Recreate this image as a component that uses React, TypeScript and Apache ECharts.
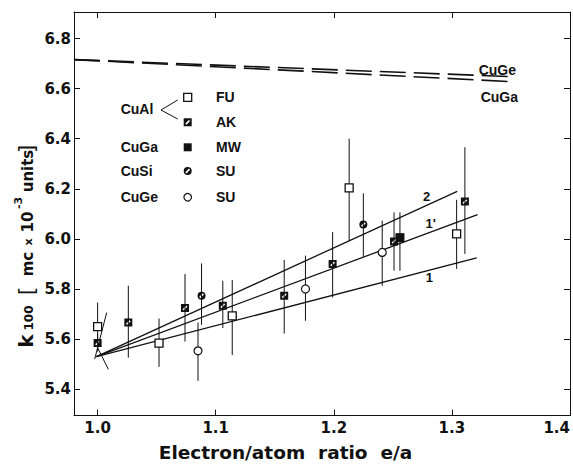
import React, { useEffect, useRef } from "react";
import * as echarts from "echarts";

const X_TICKS = [1.0, 1.1, 1.2, 1.3, 1.4];
const Y_TICKS = [5.4, 5.6, 5.8, 6.0, 6.2, 6.4, 6.6, 6.8];

// CuAl (FU) open squares
const fuX = [1.0, 1.052, 1.114, 1.213, 1.304];
const fuY = [5.65, 5.584, 5.693, 6.204, 6.02];
const fuLo = [5.58, 5.489, 5.536, 5.993, 5.88];
const fuHi = [5.746, 5.682, 5.836, 6.4, 6.156];

// CuAl (AK) hatched squares
const akX = [1.0, 1.026, 1.074, 1.106, 1.158, 1.199, 1.251, 1.311];
const akY = [5.584, 5.666, 5.724, 5.733, 5.773, 5.9, 5.99, 6.149];
const akLo = [5.55, 5.526, 5.59, 5.644, 5.622, 5.766, 5.873, 5.94];
const akHi = [5.62, 5.813, 5.86, 5.833, 5.916, 6.027, 6.106, 6.366];

// CuGa (MW) filled square
const mwX = [1.256];
const mwY = [6.005];
const mwLo = [5.873];
const mwHi = [6.106];

// CuSi (SU) hatched circles
const siX = [1.088, 1.225];
const siY = [5.773, 6.057];
const siLo = [5.657, 5.929];
const siHi = [5.902, 6.182];

// CuGe (SU) open circles
const geX = [1.085, 1.176, 1.241];
const geY = [5.553, 5.8, 5.946];
const geLo = [5.433, 5.673, 5.813];
const geHi = [5.666, 5.933, 6.073];

// fitted lines
const line2X = [0.999, 1.3045];
const line2Y = [5.53, 6.19];
const line1pX = [0.999, 1.3217];
const line1pY = [5.53, 6.097];
const line1X = [0.999, 1.321];
const line1Y = [5.53, 5.924];

// short crossing strokes near e/a = 1.0
const crossAX = [1.0077, 0.9975];
const crossAY = [5.706, 5.52];
const crossBX = [0.9992, 1.0091];
const crossBY = [5.573, 5.479];

// dashed reference lines (top)
const cuGeDashX = [0.98, 1.35];
const cuGeDashY = [6.716, 6.648];
const cuGaDashX = [0.98, 1.35];
const cuGaDashY = [6.716, 6.628];

const HATCH_SQ = "M0 0L10 0L10 10L0 10Z M2 6.5L3.5 8L8 3.5L6.5 2Z";
const HATCH_CI = "M0 5A5 5 0 1 1 10 5A5 5 0 1 1 0 5Z M2 6.5L3.5 8L8 3.5L6.5 2Z";

echarts.graphic.registerShape("hatchSq", echarts.graphic.extendPath(HATCH_SQ, {}) as any);
echarts.graphic.registerShape("hatchCi", echarts.graphic.extendPath(HATCH_CI, {}) as any);

const INK = "#111";
const SANS = "Liberation Sans";
const DV = "DejaVu Sans";

const zip = (xs: number[], ys: number[]) => xs.map((x, i) => [x, ys[i]]);
const zip3 = (xs: number[], a: number[], b: number[]) => xs.map((x, i) => [x, a[i], b[i]]);

function lineSeries(xs: number[], ys: number[], extra: any = {}) {
  return {
    type: "line",
    data: zip(xs, ys),
    symbol: "none",
    silent: true,
    z: 3,
    lineStyle: { color: INK, width: 1.3, ...(extra.lineStyle || {}) },
  };
}

export default function App() {
  const ref = useRef<HTMLDivElement>(null);
  useEffect(() => {
    document.body.style.margin = "0";
    const chart = echarts.init(ref.current!, null, { renderer: "svg" });
    const errData = [
      ...zip3(fuX, fuLo, fuHi),
      ...zip3(akX, akLo, akHi),
      ...zip3(mwX, mwLo, mwHi),
      ...zip3(siX, siLo, siHi),
      ...zip3(geX, geLo, geHi),
    ];
    const axisCommon = {
      type: "value",
      splitLine: { show: false },
      axisLine: { show: true, onZero: false, lineStyle: { color: INK, width: 1 } },
    };
    const tickStyle = { show: true, inside: true, length: 6, lineStyle: { color: INK, width: 1 } };
    const labelStyle = {
      color: INK,
      fontFamily: DV,
      fontWeight: "bold",
      fontSize: 15,
    };
    const txt = (text: string, x: number, y: number, size: number, align = "left", family = SANS, weight = "bold") => ({
      type: "text",
      x,
      y,
      silent: true,
      style: {
        text,
        fill: INK,
        font: `${weight} ${size}px "${family}"`,
        align,
        verticalAlign: "middle",
      },
    });
    const rtxt = (text: string, x: number, y: number, size: number, weight = "bold") => ({
      type: "text",
      x,
      y,
      rotation: Math.PI / 2,
      silent: true,
      style: {
        text,
        fill: INK,
        font: `${weight} ${size}px "${DV}"`,
        align: "center",
        verticalAlign: "middle",
      },
    });
    const option: any = {
      animation: false,
      backgroundColor: "#fff",
      grid: { left: 74, right: 1.5, top: 12, bottom: 55.3, containLabel: false },
      xAxis: [
        {
          ...axisCommon,
          min: 0.98,
          max: 1.4,
          position: "bottom",
          axisTick: { ...tickStyle, customValues: X_TICKS },
          axisLabel: {
            ...labelStyle,
            customValues: X_TICKS,
            margin: 5,
            alignMaxLabel: "right",
            formatter: (v: number) => v.toFixed(1),
          },
        },
        {
          ...axisCommon,
          min: 0.98,
          max: 1.4,
          position: "top",
          axisTick: { ...tickStyle, customValues: X_TICKS },
          axisLabel: { show: false },
        },
      ],
      yAxis: [
        {
          ...axisCommon,
          min: 5.294,
          max: 6.906,
          position: "left",
          axisTick: { ...tickStyle, customValues: Y_TICKS },
          axisLabel: {
            ...labelStyle,
            customValues: Y_TICKS,
            margin: 3,
            formatter: (v: number) => v.toFixed(1),
          },
        },
        {
          ...axisCommon,
          min: 5.294,
          max: 6.906,
          position: "right",
          axisTick: { ...tickStyle, customValues: Y_TICKS },
          axisLabel: { show: false },
        },
      ],
      series: [
        {
          type: "line",
          data: zip(cuGeDashX, cuGeDashY),
          symbol: "none",
          silent: true,
          z: 3,
          lineStyle: { color: INK, width: 1.6, type: [26, 8] },
        },
        {
          type: "line",
          data: zip(cuGaDashX, cuGaDashY),
          symbol: "none",
          silent: true,
          z: 3,
          lineStyle: { color: INK, width: 1.6, type: [26, 8] },
        },
        lineSeries(line2X, line2Y),
        lineSeries(line1pX, line1pY),
        lineSeries(line1X, line1Y),
        lineSeries(crossAX, crossAY, { lineStyle: { width: 1 } }),
        lineSeries(crossBX, crossBY, { lineStyle: { width: 1 } }),
        {
          type: "custom",
          data: errData,
          encode: { x: 0, y: [1, 2] },
          silent: true,
          z: 2,
          renderItem: (params: any, api: any) => {
            const p1 = api.coord([api.value(0), api.value(1)]);
            const p2 = api.coord([api.value(0), api.value(2)]);
            return {
              type: "line",
              shape: { x1: p1[0], y1: p1[1], x2: p2[0], y2: p2[1] },
              style: { stroke: INK, lineWidth: 1 },
            };
          },
        },
        {
          name: "CuAl FU",
          type: "scatter",
          data: zip(fuX, fuY),
          symbol: "rect",
          symbolSize: 8,
          z: 5,
          itemStyle: { color: "#fff", borderColor: INK, borderWidth: 1.3, opacity: 1 },
        },
        {
          name: "CuAl AK",
          type: "scatter",
          data: zip(akX, akY),
          symbol: "path://" + HATCH_SQ,
          symbolSize: 8,
          z: 5,
          itemStyle: { color: INK, opacity: 1 },
        },
        {
          name: "CuGa MW",
          type: "scatter",
          data: zip(mwX, mwY),
          symbol: "rect",
          symbolSize: 9,
          z: 6,
          itemStyle: { color: INK, opacity: 1 },
        },
        {
          name: "CuSi SU",
          type: "scatter",
          data: zip(siX, siY),
          symbol: "path://" + HATCH_CI,
          symbolSize: 8,
          z: 5,
          itemStyle: { color: INK, opacity: 1 },
        },
        {
          name: "CuGe SU",
          type: "scatter",
          data: zip(geX, geY),
          symbol: "circle",
          symbolSize: 8,
          z: 5,
          itemStyle: { color: "#fff", borderColor: INK, borderWidth: 1.2, opacity: 1 },
        },
      ],
      graphic: [
        // legend
        txt("CuAl", 120.7, 109, 14),
        { type: "line", silent: true, shape: { x1: 161, y1: 110, x2: 177.7, y2: 100 }, style: { stroke: INK, lineWidth: 1 } },
        { type: "line", silent: true, shape: { x1: 161, y1: 110, x2: 177.7, y2: 119 }, style: { stroke: INK, lineWidth: 1 } },
        { type: "rect", silent: true, shape: { x: 183.7, y: 93.3, width: 8, height: 8 }, style: { fill: "#fff", stroke: INK, lineWidth: 1.3 } },
        { type: "hatchSq", silent: true, x: 183.7, y: 118.3, scaleX: 0.8, scaleY: 0.8, style: { fill: INK } },
        { type: "rect", silent: true, shape: { x: 183.7, y: 143.3, width: 8, height: 8 }, style: { fill: INK } },
        { type: "hatchCi", silent: true, x: 183.7, y: 167, scaleX: 0.8, scaleY: 0.8, style: { fill: INK } },
        { type: "circle", silent: true, shape: { cx: 187.7, cy: 197.3, r: 3.8 }, style: { fill: "#fff", stroke: INK, lineWidth: 1.2 } },
        txt("FU", 216, 97.3, 14),
        txt("AK", 216, 122.3, 14),
        txt("CuGa", 120.7, 147.3, 14),
        txt("MW", 216, 147.3, 14),
        txt("CuSi", 120.7, 171, 14),
        txt("SU", 216, 171, 14),
        txt("CuGe", 120.7, 197.3, 14),
        txt("SU", 216, 197.3, 14),
        // dashed line labels
        txt("CuGe", 497.3, 70, 14, "center"),
        txt("CuGa", 499.3, 96.7, 14, "center"),
        // fit line labels
        txt("2", 426.7, 196.7, 13, "center"),
        txt("1'", 430.7, 223.3, 13, "center"),
        txt("1", 429.3, 277.7, 13, "center"),
        // x axis title
        txt("Electron/atom  ratio  e/a", 285.5, 452, 18.5, "center", DV),
        // y axis title pieces
        rtxt("k", 26, 341, 20),
        rtxt("100", 29.2, 318, 12),
        rtxt("[", 26, 291, 22, "normal"),
        rtxt("mc", 27.5, 264, 15),
        rtxt("x", 28.5, 242, 11),
        rtxt("10", 27.5, 222, 15),
        rtxt("-3", 18.2, 203, 11),
        rtxt("units", 27.5, 171, 15),
        rtxt("]", 26, 149, 22, "normal"),
      ],
    };
    chart.setOption(option);
    return () => chart.dispose();
  }, []);
  return (
    <div
      ref={ref}
      style={{ position: "absolute", left: 0, top: 0, width: 573, height: 471, background: "#fff" }}
    />
  );
}
